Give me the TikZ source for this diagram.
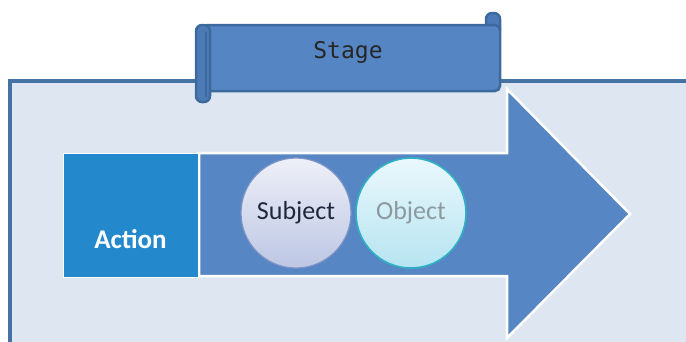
\documentclass[tikz,border=0pt]{standalone}
\usepackage{fontspec}
\newfontfamily\calibri{Carlito}
\newfontfamily\consol{DejaVu Sans Mono}
\definecolor{panelfill}{HTML}{DEE7F1}
\definecolor{paneledge}{HTML}{4671A3}
\definecolor{arrowfill}{HTML}{5686C3}
\definecolor{actionfill}{HTML}{2389CC}
\definecolor{scrollfill}{HTML}{5585C3}
\definecolor{scrolledge}{HTML}{3D6A9C}
\definecolor{rodfill}{HTML}{4C7AB6}
\definecolor{subjtop}{HTML}{EEF0F8}
\definecolor{subjbot}{HTML}{BCC7E4}
\definecolor{subjedge}{HTML}{7F95C6}
\definecolor{objtop}{HTML}{EAF8FC}
\definecolor{objbot}{HTML}{B6E4F1}
\definecolor{objedge}{HTML}{2FB2C6}
\definecolor{subjtext}{HTML}{1F283A}
\definecolor{objtext}{HTML}{8C9A9F}
\tikzset{
  panelbody/.style={fill=panelfill},
  paneledgeline/.style={draw=paneledge, line width=3.5},
  bigarrow/.style={fill=arrowfill, draw=white, line width=2.5, line join=miter},
  actionbox/.style={rectangle, fill=actionfill, draw=white, line width=1,
    minimum width=135, minimum height=124, inner sep=0},
  actionlabel/.style={font=\calibri\bfseries\fontsize{27}{27}\selectfont, text=white, inner sep=0},
  ball/.style={circle, minimum size=110, inner sep=0, line width=1.2,
    font=\calibri\fontsize{26}{26}\selectfont},
  subjball/.style={ball, top color=subjtop, bottom color=subjbot, draw=subjedge, text=subjtext},
  objball/.style={ball, top color=objtop, bottom color=objbot, draw=objedge, line width=1.6, text=objtext},
  scrollpart/.style={fill=scrollfill, draw=scrolledge, line width=2.5},
  rodpart/.style={fill=rodfill, draw=scrolledge, line width=2.5},
  stagelabel/.style={font=\consol\fontsize{23}{23}\selectfont, text=black!85, inner sep=0}
}
\begin{document}
\begin{tikzpicture}[x=1pt, y=-1pt]
\useasboundingbox (0,0) rectangle (686,341);
\clip (0,0) rectangle (686,341);

% background panel, open towards the right and bottom
\fill[panelbody] (10,81) rectangle (720,380);
\draw[paneledgeline] (720,81) -- (10,81) -- (10,380);

% block arrow
\draw[bigarrow] (199,153) -- (507,153) -- (507,89) -- (630,214)
  -- (507,338) -- (507,276) -- (199,276) -- cycle;

% action box
\node[actionbox] (action) at (130.5,215) {};
\node[actionlabel] (actiontext) at ([yshift=-24]action.center) {Action};

% subject and object
\node[subjball] (subject) at (296,213) {Subject};
\node[objball] (object) at (411,213) {Object};

% scroll banner
\draw[rodpart, rounded corners=6] (486,30) -- (486,13) -- (500,13) -- (500,30);
\draw[scrollpart, rounded corners=5] (202,25) rectangle (500,91);
\draw[rodpart, rounded corners=6] (196,25) rectangle (210,102);
\draw[scrolledge, line width=1.5] (206,32) -- (206,97);
\node[stagelabel] (stage) at (348,52) {Stage};
\end{tikzpicture}
\end{document}
